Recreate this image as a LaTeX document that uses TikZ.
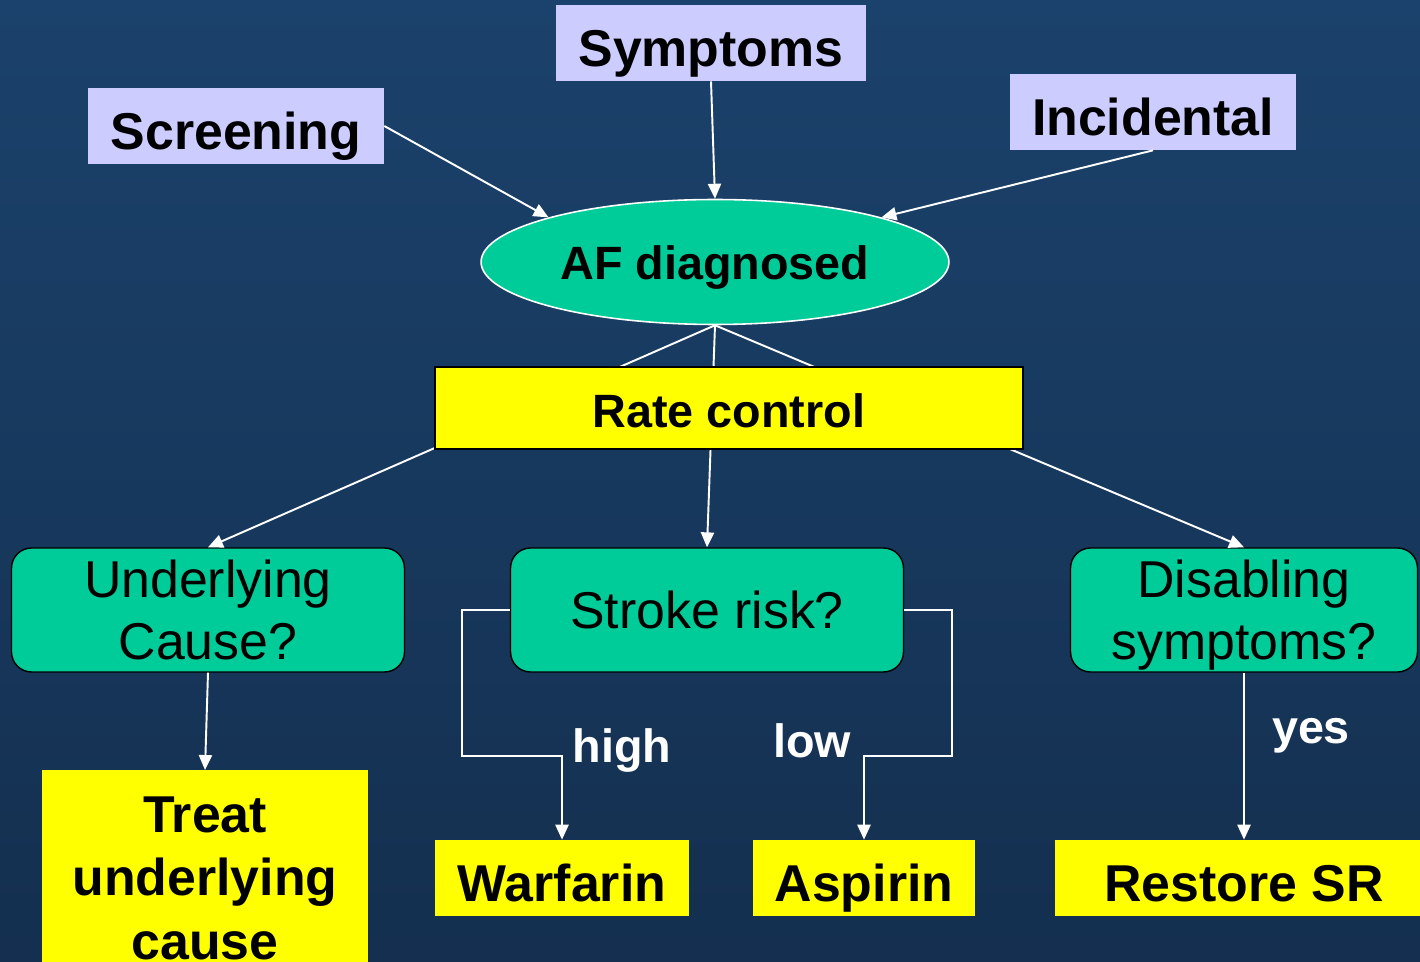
\documentclass[tikz,border=0pt]{standalone}
\usepackage{fontspec}
\setmainfont{Liberation Sans}
\usetikzlibrary{shapes.geometric,arrows.meta,positioning}
\definecolor{bgtop}{RGB}{27,66,108}
\definecolor{bgbot}{RGB}{20,47,79}
\definecolor{lav}{RGB}{204,204,255}
\definecolor{aqua}{RGB}{0,204,153}
\definecolor{lemon}{RGB}{255,255,0}

\begin{document}
\begin{tikzpicture}[x=0.02cm,y=-0.02cm,
  src/.style={fill=lav,inner sep=0pt,minimum height=1.52cm,text height=1.1cm,text depth=0.16cm,font=\fontsize{29.5}{36}\selectfont\bfseries},
  act/.style={fill=lemon,inner sep=0pt,minimum height=1.52cm,text height=1.1cm,text depth=0.16cm,font=\fontsize{29.5}{36}\selectfont\bfseries},
  ask/.style={fill=aqua,draw=black,line width=0.8pt,rounded corners=0.4cm,inner sep=0pt,minimum height=2.48cm,align=center,font=\fontsize{29.5}{35.1}\selectfont},
  lbl/.style={text=white,inner sep=0pt,anchor=base,font=\fontsize{26.6}{32}\selectfont\bfseries},
  arr/.style={draw=white,line width=1.1pt,-{Triangle[length=8.5pt,width=7.5pt]}}]
\useasboundingbox (0,0) rectangle (1420,962);
\clip (0,0) rectangle (1420,962);
\shade[top color=bgtop,bottom color=bgbot] (0,0) rectangle (1420,962);

\node[src,minimum width=6.22cm] (sym) at (711,43) {Symptoms};
\node[src,minimum width=5.92cm] (scr) at (236,126) {Screening};
\node[src,minimum width=5.74cm] (inc) at (1153,112) {Incidental};
\node[ellipse,draw=white,line width=0.9pt,fill=aqua,inner sep=0pt,minimum width=9.36cm,minimum height=2.5cm,text height=0.92cm,text depth=0.2cm,font=\fontsize{26.6}{32}\selectfont\bfseries] (af) at (715,262) {AF diagnosed};

\node[ask,minimum width=7.86cm] (und) at (208,610) {Underlying\\Cause?};
\node[ask,minimum width=7.86cm] (stroke) at (707,610) {Stroke risk?};
\node[ask,minimum width=6.94cm] (dis) at (1244,610) {Disabling\\\raisebox{0pt}[\height][0pt]{symptoms?}};

\node[fill=lemon,anchor=north,inner xsep=0pt,inner ysep=0.52cm,minimum width=6.52cm,align=center,font=\fontsize{29.5}{36.3}\selectfont\bfseries] (treat) at (205,770) {Treat\\underlying\\cause};
\node[act,minimum width=5.08cm] (warf) at (562,878) {Warfarin};
\node[act,minimum width=4.44cm] (asp) at (864,878) {Aspirin};
\node[act,minimum width=7.56cm] (sr) at (1244,878) {Restore SR};

\coordinate (hi) at (462,756);
\coordinate (lo) at (952,756);
\node[lbl] (high) at (622,762) {high};
\node[lbl] (low) at (812,757) {low};
\node[lbl] (yes) at (1311,743) {yes};

\draw[arr] (scr.east) -- (af.165);
\draw[arr] (sym.south) -- (af.north);
\draw[arr] (inc.south) -- (af.15);
\draw[arr] (af.south) -- (und.north);
\draw[arr] (af.south) -- (stroke.north);
\draw[arr] (af.south) -- (dis.north);
\draw[arr] (und.south) -- (treat.north);
\draw[arr] (stroke.west) -| (hi) -| (warf.north);
\draw[arr] (stroke.east) -| (lo) -| (asp.north);
\draw[arr] (dis.south) -- (sr.north);

\node[fill=lemon,draw=black,line width=1.1pt,inner sep=0pt,minimum width=11.78cm,minimum height=1.64cm,text height=1cm,text depth=0.2cm,font=\fontsize{26.6}{32}\selectfont\bfseries] (rate) at (729,408) {Rate control};
\end{tikzpicture}
\end{document}
